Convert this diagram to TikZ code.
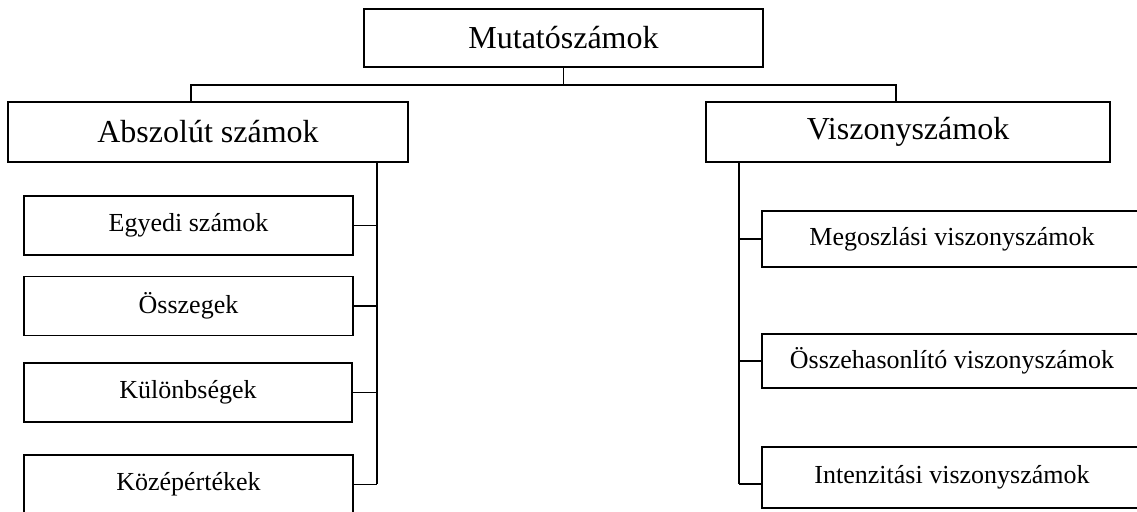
\documentclass[tikz,border=0pt]{standalone}
\usepackage{fontspec}
\setmainfont{Liberation Serif}
\usepackage{tikz}

\begin{document}
\begin{tikzpicture}[x=1pt, y=-1pt,
        box/.style={draw, line width=1.6pt, rectangle, inner sep=0pt, align=center},
        big/.style={box, font=\fontsize{32}{36}\selectfont},
        small/.style={box, font=\fontsize{26}{30}\selectfont, minimum height=59pt},
        conn/.style={line width=1.6pt},
        bus/.style={line width=2.3pt}]
            \useasboundingbox (0,0) rectangle (1137,511);
            \clip (0,0) rectangle (1137,511);
            % top levels
            \node[big, minimum width=399pt, minimum height=58pt] (top) at (563.5,38) {Mutatószámok};
            \node[big, minimum width=400pt, minimum height=60pt] (abs) at (208,132) {Abszolút számok};
            \node[big, minimum width=404pt, minimum height=60pt] (visz) at (908,132) {Viszonyszámok};
            % left children
            \node[small, minimum width=329pt] (egy) at (188.5,225.5) {Egyedi számok};
            \node[small, minimum width=329pt] (ossz) at (188.5,306) {Összegek};
            \node[small, minimum width=328pt] (kul) at (188,392.5) {Különbségek};
            \node[small, minimum width=329pt] (koz) at (188.5,484.5) {Középértékek};
            % right children
            \node[small, minimum width=380pt, minimum height=56pt] (meg) at (952,239) {Megoszlási viszonyszámok};
            \node[small, minimum width=380pt, minimum height=54pt] (oh) at (952,361) {Összehasonlító viszonyszámok};
            \node[small, minimum width=380pt, minimum height=61pt] (int) at (952,477.5) {Intenzitási viszonyszámok};
            % connectors
            \coordinate (hl) at (191,85);
            \coordinate (hr) at (896,85);
            \coordinate (bl) at (377,484);
            \coordinate (br) at (739,484);
            \draw[conn] (top.south) -- (top.south |- hl);
            \draw[conn] (hl |- abs.north) -- (hl) -- (hr) -- (hr |- visz.north);
            \draw[bus] (bl |- abs.south) -- (bl);
            \foreach \n in {egy,ossz,kul,koz}
                \draw[conn] (\n.east) -- (bl |- \n.east);
            \draw[bus] (br |- visz.south) -- (br);
            \foreach \n in {meg,oh}
                \draw[conn] (br |- \n.west) -- (\n.west);
            \draw[conn] (br) -- (br -| int.west);
        \end{tikzpicture}
\end{document}
